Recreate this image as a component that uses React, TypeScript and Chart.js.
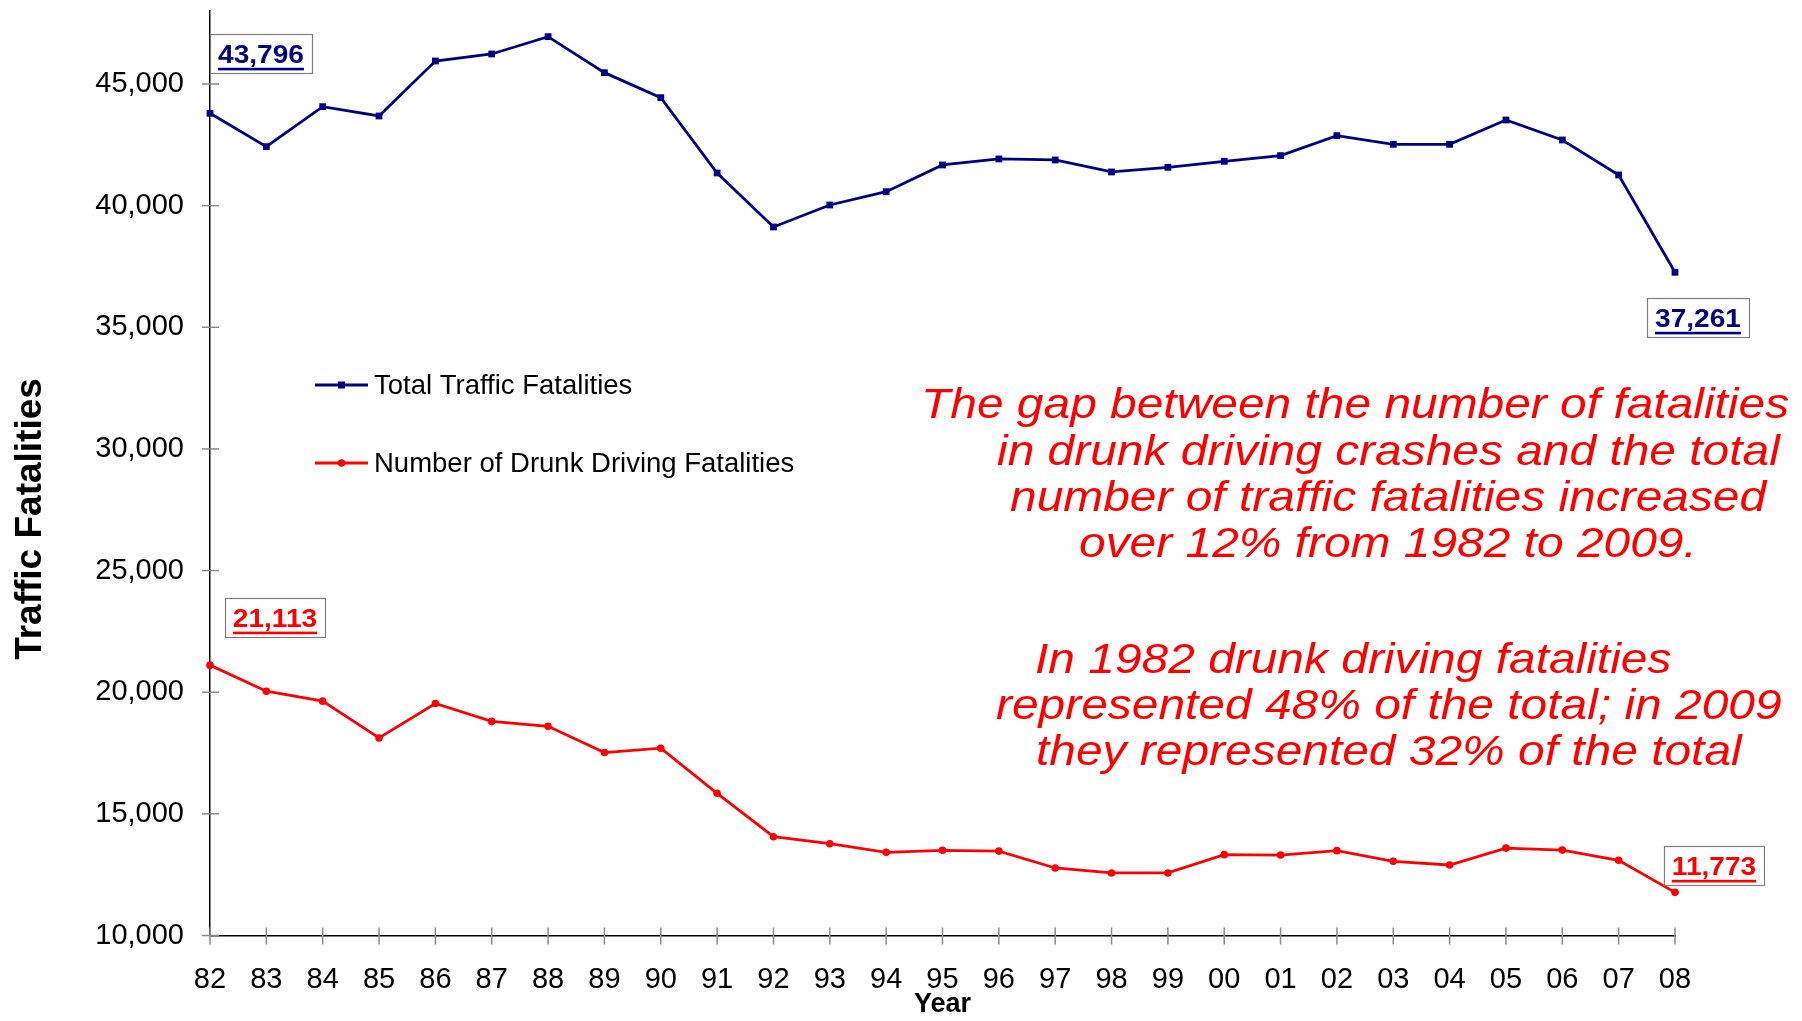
import React, { useEffect, useRef } from 'react';
import { Chart, registerables } from 'chart.js';

Chart.register(...registerables);

// ---------- data ----------
const years = ['82', '83', '84', '85', '86', '87', '88', '89', '90', '91', '92', '93', '94', '95', '96', '97', '98', '99', '00', '01', '02', '03', '04', '05', '06', '07', '08'];

const totalFatalities = [43796, 42425, 44068, 43685, 45945, 46233, 46945, 45466, 44438, 41342, 39123, 40027, 40575, 41671, 41919, 41877, 41384, 41575, 41822, 42055, 42877, 42520, 42520, 43520, 42699, 41261, 37261];

const drunkFatalities = [21113, 20041, 19632, 18120, 19537, 18801, 18597, 17520, 17698, 15845, 14060, 13774, 13420, 13501, 13470, 12775, 12571, 12571, 13323, 13307, 13487, 13049, 12898, 13593, 13511, 13090, 11773];

const seriesLabels = ['Total Traffic Fatalities', 'Number of Drunk Driving Fatalities'];

const yMin = 10000;
const yMax = 48000;
const yTickValues = [10000, 15000, 20000, 25000, 30000, 35000, 40000, 45000];

const yAxisTitle = 'Traffic Fatalities';
const xAxisTitle = 'Year';

const noteBlock1 = [
  'The gap between the number of fatalities',
  'in drunk driving crashes and the total',
  'number of traffic fatalities increased',
  'over 12% from 1982 to 2009.',
];
const noteBlock2 = [
  'In 1982 drunk driving fatalities',
  'represented 48% of the total; in 2009',
  'they represented 32% of the total',
];

// which points carry a boxed value label: [datasetIndex, pointIndex]
const labeledPoints: [number, number][] = [[0, 0], [0, 26], [1, 0], [1, 26]];

// ---------- styling / layout ----------
const FONT = '"Liberation Sans", Arial, Helvetica, sans-serif';
const NAVY = '#000080';
const RED = '#FF0000';

const layout = {
  axisLeft: 210,
  chartTop: 11,
  chartRightPad: 127,
  xAxisHeight: 85.5,
  tickFont: 29,
  yTitle: { x: 31, y: 519, size: 37 },
  legend: { x0: 315, x1: 368, textX: 374, ys: [385, 463], size: 27.5 },
  note1: { xs: [921, 997, 1010, 1079], ys: [406, 453, 499, 545] },
  note2: { xs: [1035, 996, 1036], ys: [661, 707, 753] },
  noteFont: 43,
  noteStretch: 1.114,
  // box centre offsets from the point
  boxOffsets: [[51, -60], [23, 45], [65, -48], [39, -27]],
};

function drawStretched(ctx: CanvasRenderingContext2D, text: string, x: number, y: number, sx: number, align: CanvasTextAlign) {
  ctx.save();
  ctx.translate(x, y);
  ctx.scale(sx, 1);
  ctx.textAlign = align;
  ctx.fillText(text, 0, 0);
  ctx.restore();
}

const overlayPlugin = {
  id: 'overlay',
  beforeDatasetsDraw(chart: any) {
    const ctx: CanvasRenderingContext2D = chart.ctx;
    const xs = chart.scales.x;
    const ys = chart.scales.y;
    ctx.save();
    ctx.strokeStyle = '#8a8a8a';
    ctx.lineWidth = 1.5;
    ys.ticks.forEach((_t: any, i: number) => {
      const py = ys.getPixelForTick(i);
      ctx.beginPath();
      ctx.moveTo(xs.left - 8, py);
      ctx.lineTo(xs.left + 9, py);
      ctx.stroke();
    });
    xs.ticks.forEach((_t: any, i: number) => {
      const px = xs.getPixelForTick(i);
      ctx.beginPath();
      ctx.moveTo(px, ys.bottom - 8);
      ctx.lineTo(px, ys.bottom + 9);
      ctx.stroke();
    });
    ctx.restore();
  },
  afterDraw(chart: any) {
    const ctx: CanvasRenderingContext2D = chart.ctx;
    ctx.save();

    // y axis title
    ctx.save();
    ctx.translate(layout.yTitle.x, layout.yTitle.y);
    ctx.rotate(-Math.PI / 2);
    ctx.fillStyle = '#000';
    ctx.font = `bold ${layout.yTitle.size}px ${FONT}`;
    ctx.textAlign = 'center';
    ctx.textBaseline = 'middle';
    ctx.fillText(yAxisTitle, 0, 0);
    ctx.restore();

    // legend
    chart.data.datasets.forEach((ds: any, i: number) => {
      const y = layout.legend.ys[i];
      ctx.strokeStyle = ds.borderColor;
      ctx.fillStyle = ds.borderColor;
      ctx.lineWidth = 2.8;
      ctx.beginPath();
      ctx.moveTo(layout.legend.x0, y);
      ctx.lineTo(layout.legend.x1, y);
      ctx.stroke();
      const mx = (layout.legend.x0 + layout.legend.x1) / 2;
      if (ds.pointStyle === 'rect') {
        ctx.fillRect(mx - 3.5, y - 3.5, 7, 7);
      } else {
        ctx.beginPath();
        ctx.arc(mx, y, 3.8, 0, Math.PI * 2);
        ctx.fill();
      }
      ctx.fillStyle = '#000';
      ctx.font = `${layout.legend.size}px ${FONT}`;
      ctx.textAlign = 'left';
      ctx.textBaseline = 'middle';
      ctx.fillText(ds.label, layout.legend.textX, y + 1);
    });

    // value boxes
    labeledPoints.forEach(([di, pi], k) => {
      const ds = chart.data.datasets[di];
      const el = chart.getDatasetMeta(di).data[pi];
      const [dx, dy] = layout.boxOffsets[k];
      const cx = el.x + dx;
      const cy = el.y + dy;
      const text = Number(ds.data[pi]).toLocaleString('en-US');
      ctx.font = `bold 26.5px ${FONT}`;
      const sx = 1.06;
      const w = ctx.measureText(text).width * sx;
      const bw = w + 16;
      const bh = 39;
      ctx.fillStyle = '#fff';
      ctx.fillRect(cx - bw / 2, cy - bh / 2, bw, bh);
      ctx.strokeStyle = '#808080';
      ctx.lineWidth = 1.2;
      ctx.strokeRect(Math.round(cx - bw / 2) + 0.5, Math.round(cy - bh / 2) + 0.5, Math.round(bw), Math.round(bh));
      ctx.fillStyle = ds.borderColor;
      ctx.textBaseline = 'alphabetic';
      drawStretched(ctx, text, cx, cy + 9.5, sx, 'center');
      ctx.fillRect(cx - w / 2, cy + 14.5, w, 2.6);
    });

    // red notes
    ctx.fillStyle = RED;
    ctx.font = `italic ${layout.noteFont}px ${FONT}`;
    ctx.textBaseline = 'middle';
    noteBlock1.forEach((line, i) => {
      drawStretched(ctx, line, layout.note1.xs[i], layout.note1.ys[i], layout.noteStretch, 'left');
    });
    noteBlock2.forEach((line, i) => {
      drawStretched(ctx, line, layout.note2.xs[i], layout.note2.ys[i], layout.noteStretch, 'left');
    });

    ctx.restore();
  },
};

export default function App() {
  const ref = useRef<HTMLCanvasElement>(null);

  useEffect(() => {
    document.body.style.margin = '0';
    const canvas = ref.current;
    if (!canvas) return;
    Chart.defaults.font.family = FONT;
    const chart = new Chart(canvas, {
      type: 'line',
      data: {
        labels: years,
        datasets: [
          {
            label: seriesLabels[0],
            data: totalFatalities,
            borderColor: NAVY,
            backgroundColor: NAVY,
            borderWidth: 2.8,
            pointStyle: 'rect',
            pointRadius: 4.8,
            pointBorderWidth: 0,
            pointBackgroundColor: NAVY,
            tension: 0,
            clip: false,
          } as any,
          {
            label: seriesLabels[1],
            data: drunkFatalities,
            borderColor: RED,
            backgroundColor: RED,
            borderWidth: 2.8,
            pointStyle: 'circle',
            pointRadius: 3.8,
            pointBorderWidth: 0,
            pointBackgroundColor: RED,
            tension: 0,
            clip: false,
          } as any,
        ],
      },
      options: {
        responsive: true,
        maintainAspectRatio: false,
        animation: false,
        layout: { padding: { top: layout.chartTop, right: layout.chartRightPad, left: 0, bottom: 0 } },
        plugins: { legend: { display: false }, tooltip: { enabled: false } },
        scales: {
          x: {
            type: 'category',
            offset: false,
            grid: { display: false, drawTicks: false },
            border: { display: true, color: '#000', width: 1.5 },
            ticks: { color: '#000', font: { size: layout.tickFont, family: FONT }, padding: 27, maxRotation: 0, autoSkip: false },
            title: { display: true, text: xAxisTitle, color: '#000', font: { size: 27, weight: 'bold', family: FONT }, padding: 0 },
            afterFit: (s: any) => {
              s.height = layout.xAxisHeight;
              s.paddingLeft = 0;
              s.paddingRight = 0;
            },
          },
          y: {
            min: yMin,
            max: yMax,
            grid: { display: false, drawTicks: false },
            border: { display: true, color: '#000', width: 1.5 },
            afterBuildTicks: (s: any) => { s.ticks = yTickValues.map((v) => ({ value: v })); },
            ticks: {
              color: '#000',
              font: { size: layout.tickFont, family: FONT },
              padding: 26,
              callback: (v: any) => Number(v).toLocaleString('en-US'),
            },
            afterFit: (s: any) => {
              s.width = layout.axisLeft;
              s.paddingTop = 0;
              s.paddingBottom = 0;
            },
          },
        },
      } as any,
      plugins: [overlayPlugin],
    });
    return () => chart.destroy();
  }, []);

  return (
    <div style={{ position: 'fixed', left: 0, top: 0, width: 1802, height: 1021, background: '#fff' }}>
      <canvas ref={ref} />
    </div>
  );
}
